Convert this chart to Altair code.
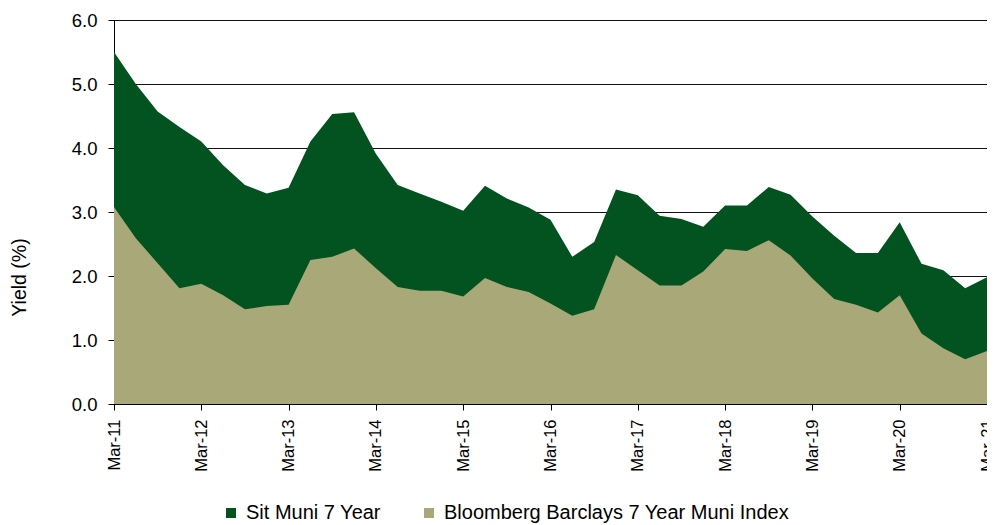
import altair as alt
import pandas as pd

# Quarterly categories Mar-11 .. Mar-21
months = ["Mar", "Jun", "Sep", "Dec"]
quarters = []
for yy in range(11, 22):
    for m in months:
        quarters.append(f"{m}-{yy:02d}")
quarters = quarters[:41]

sit_name = "Sit Muni 7 Year"
idx_name = "Bloomberg Barclays 7 Year Muni Index"

sit_values = [5.50, 5.00, 4.57, 4.33, 4.10, 3.73, 3.42, 3.29, 3.38, 4.10, 4.53, 4.56, 3.91,
              3.42, 3.29, 3.16, 3.02, 3.41, 3.21, 3.07, 2.88, 2.30, 2.53, 3.35, 3.26, 2.94,
              2.89, 2.77, 3.10, 3.10, 3.39, 3.27, 2.93, 2.63, 2.36, 2.36, 2.84, 2.19, 2.09,
              1.81, 1.98]
idx_values = [3.08, 2.59, 2.20, 1.81, 1.88, 1.70, 1.48, 1.53, 1.55, 2.25, 2.30, 2.43, 2.12,
              1.83, 1.77, 1.77, 1.68, 1.97, 1.83, 1.75, 1.57, 1.38, 1.48, 2.33, 2.09, 1.85,
              1.85, 2.07, 2.42, 2.39, 2.56, 2.32, 1.96, 1.64, 1.55, 1.43, 1.70, 1.10, 0.87,
              0.70, 0.83]

tick_labels = [q for q in quarters if q.startswith("Mar")]
y_ticks = [0, 1, 2, 3, 4, 5, 6]

df_sit = pd.DataFrame({"quarter": quarters, "yield": sit_values, "series": sit_name})
df_idx = pd.DataFrame({"quarter": quarters, "yield": idx_values, "series": idx_name})

color_scale = alt.Scale(domain=[sit_name, idx_name], range=["#02531F", "#A9A878"])

x_enc = alt.X(
    "quarter:O",
    sort=quarters,
    scale=alt.Scale(type="point", padding=0),
    axis=alt.Axis(
        values=tick_labels, labelAngle=270, title=None, tickSize=6, labelPadding=9,
        labelFontSize=16.5, grid=False, zindex=1, domainColor="black", tickColor="black",
    ),
)
y_enc = alt.Y(
    "yield:Q",
    scale=alt.Scale(domain=[0, 6], nice=False, zero=True),
    axis=alt.Axis(
        values=y_ticks, format=".1f", title="Yield (%)", titleFontSize=19.5,
        titleFontWeight="normal", titleAngle=270, titleAlign="center",
        titleBaseline="bottom", titleX=-85, titleY=257,
        labelFontSize=18.5, tickSize=6, labelPadding=11,
        grid=True, gridColor="#111111", gridWidth=1, gridOpacity=1,
        domainColor="black", tickColor="black", zindex=0,
    ),
)
color_enc = alt.Color(
    "series:N", scale=color_scale,
    legend=alt.Legend(
        title=None, orient="none", legendX=107, legendY=483, direction="horizontal",
        symbolType="square", symbolSize=100, symbolStrokeWidth=0, labelFontSize=20,
        labelOffset=5, columnPadding=38, labelLimit=500,
    ),
)

sit_area = alt.Chart(df_sit).mark_area(opacity=1, interpolate="linear").encode(
    x=x_enc, y=y_enc, color=color_enc
)
idx_area = alt.Chart(df_idx).mark_area(opacity=1, interpolate="linear").encode(
    x=x_enc, y=y_enc, color=color_enc
)

chart = (
    alt.layer(sit_area, idx_area)
    .properties(
        width=873, height=384,
        autosize=alt.AutoSizeParams(type="none"),
        padding={"left": 106, "top": 12, "right": 0, "bottom": 121},
    )
    .configure_view(stroke="#808080", strokeWidth=1)
    .configure_axis(labelFont="Liberation Sans", titleFont="Liberation Sans",
                    labelColor="black", titleColor="black")
    .configure_legend(labelFont="Liberation Sans", labelColor="black")
)

chart.save("out.html", embed_options={"renderer": "svg", "actions": False})
